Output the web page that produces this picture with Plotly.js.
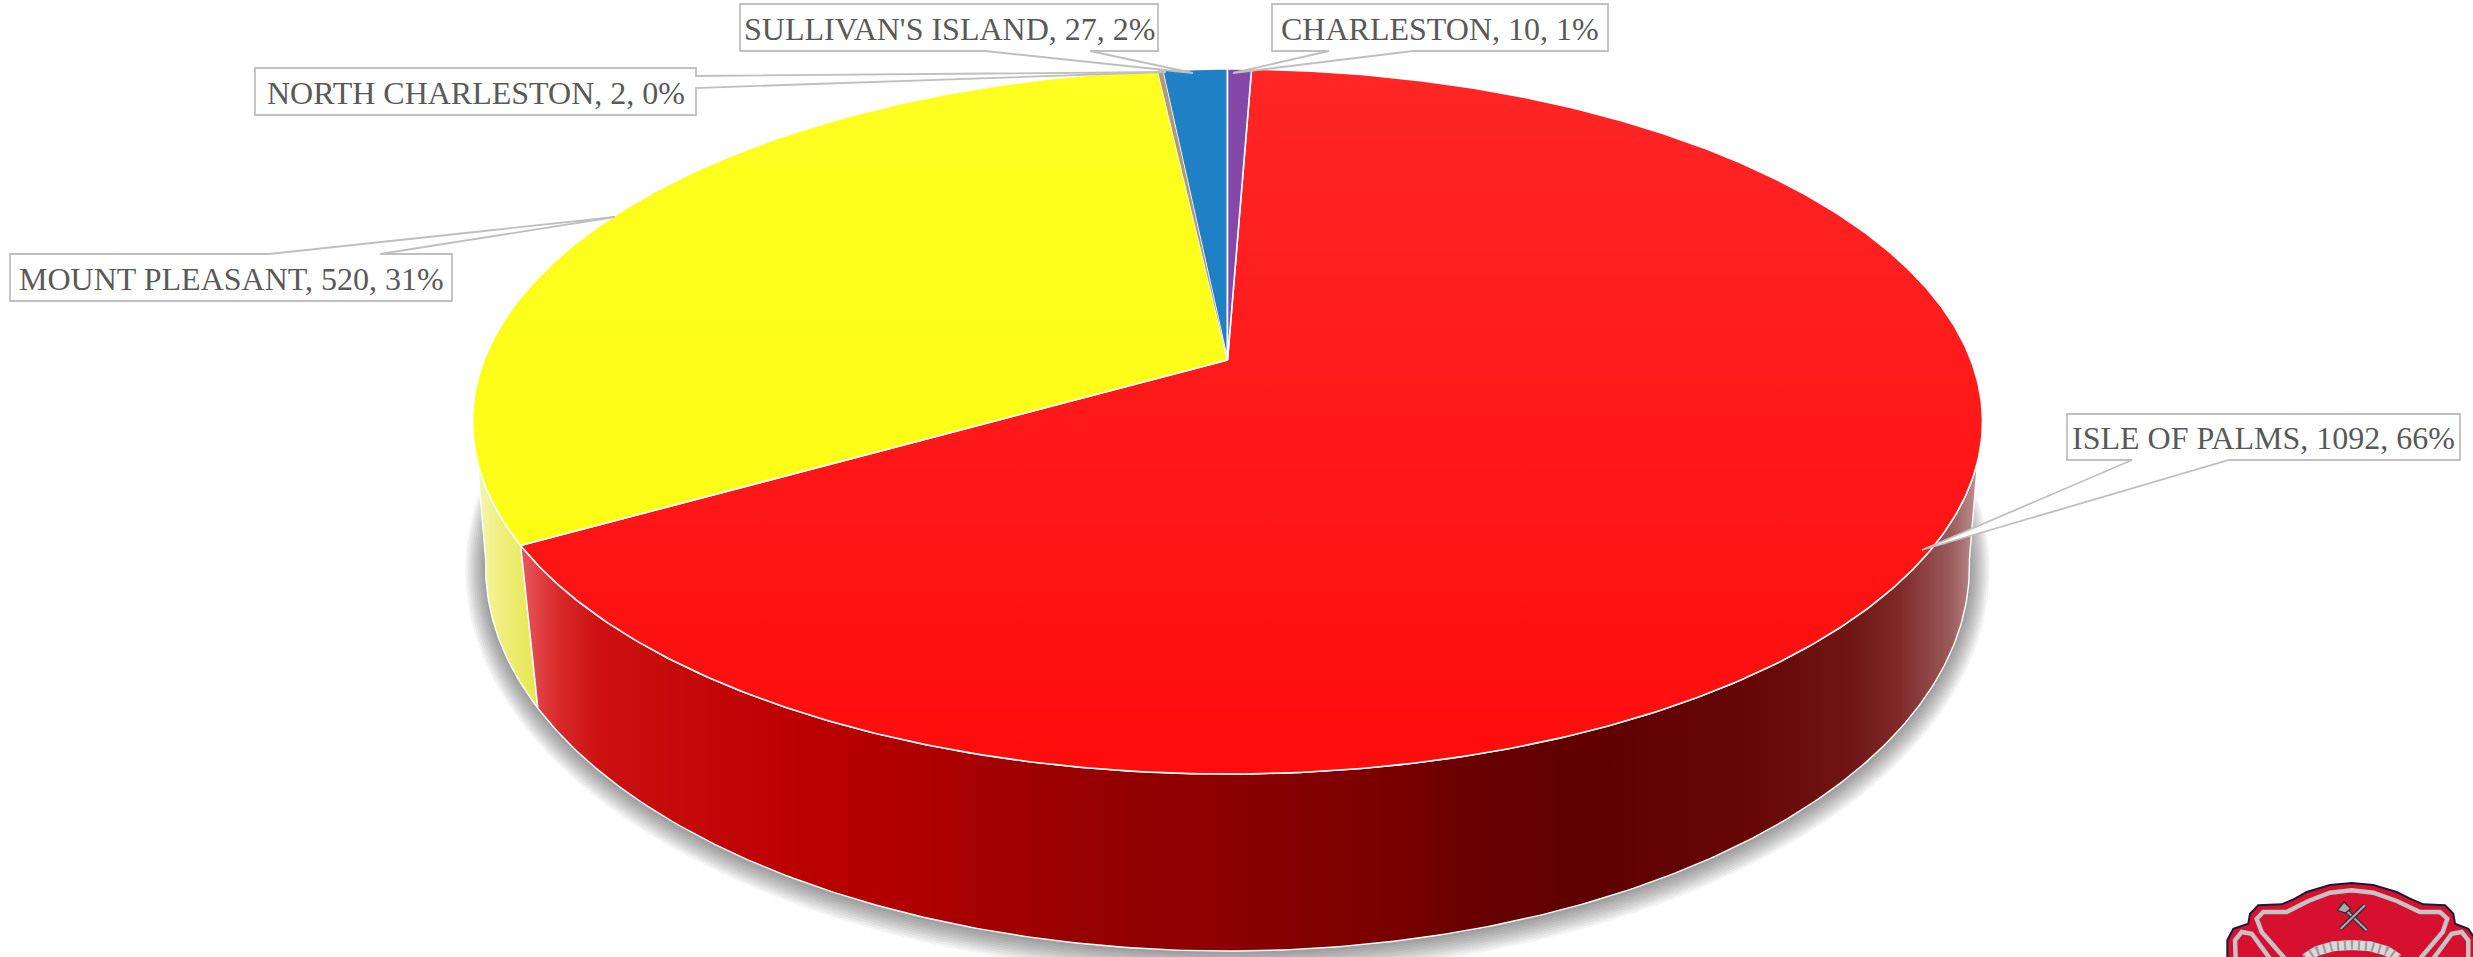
<!DOCTYPE html>
<html><head><meta charset="utf-8">
<script src="https://cdn.plot.ly/plotly-3.0.1.min.js"></script>
<style>html,body{margin:0;padding:0;background:#fff;overflow:hidden}#c{width:2473px;height:957px}</style>
</head><body><div id="c"></div>
<script>
// ---- data ----
const categories = ["CHARLESTON", "ISLE OF PALMS", "MOUNT PLEASANT", "NORTH CHARLESTON", "SULLIVAN'S ISLAND"];
const values = [10, 1092, 520, 2, 27];
const sliceTop = [["#8448a8","#8448a8"],["#ff2626","#ff0c0c"],["#ffff20","#fbfb10"],["#b09a78","#b09a78"],["#2080c6","#2080c6"]];

// ---- geometry of the perspective pie (pixels) ----
const W = 2473, H = 957, cx = 1227.5;
const topE = {cy: 360, a: 341.8, b: 743.4, k: 0.1745};
const botE = {cy: 506.5, a: 375.6, b: 733, k: 0.155};
function pt(e, deg, g) {
  g = g || 0;
  const t = deg * Math.PI / 180, d = 1 + e.k * Math.cos(t);
  return [cx + (e.b + g) * Math.sin(t) / d, e.cy - (e.a + g) * Math.cos(t) / d];
}
function arc(e, a0, a1, g) {
  const n = Math.max(2, Math.ceil(Math.abs(a1 - a0) / 0.5)), out = [];
  for (let i = 0; i <= n; i++) out.push(pt(e, a0 + (a1 - a0) * i / n, g));
  return out;
}
const xs = p => p.map(q => q[0]), ys = p => p.map(q => q[1]);

const total = values.reduce((s, v) => s + v, 0);
const angles = [0];
values.forEach(v => angles.push(angles[angles.length - 1] + v / total * 360));

const traces = [];
// shadow
for (let g = 20; g >= 2; g -= 2) {
  const p = arc(botE, 0, 360, g);
  traces.push({type:"scatter", mode:"none", x: xs(p), y: ys(p).map(v => v + 1), fill:"toself",
    fillcolor:"rgba(0,0,0,0.042)", hoverinfo:"skip"});
}
// side walls
const redWall = [[519,"#e85a60"],[560,"#d82828"],[600,"#cc1010"],[700,"#c20808"],[800,"#bb0000"],[907,"#b00000"],
  [1100,"#950000"],[1233,"#8c0000"],[1400,"#780000"],[1500,"#640000"],[1600,"#600000"],[1750,"#670606"],
  [1850,"#701515"],[1900,"#802a2a"],[1950,"#9a5a5a"],[1982,"#c49a9a"]];
const scale = (stops) => {
  const a = stops[0][0], b = stops[stops.length - 1][0];
  return {start: a, stop: b, type: "horizontal", colorscale: stops.map(s => [(s[0] - a) / (b - a), s[1]])};
};
function wall(a0, a1, grad) {
  const p = arc(topE, a0, a1).concat(arc(botE, a1, a0));
  p.push(p[0]);
  traces.push({type:"scatter", mode:"lines", x: xs(p), y: ys(p), fill:"toself",
    fillgradient: grad, line:{color:"#ffffff", width:1.4}, hoverinfo:"skip"});
}
wall(angles[2], 262, scale([[476,"#f6f6b4"],[500,"#efef80"],[538,"#e6e650"]]));
wall(98, angles[2], scale(redWall));
// top faces
[1, 2, 4, 0, 3].forEach(i => {
  const p = [[cx, topE.cy]].concat(arc(topE, angles[i], angles[i + 1]));
  p.push(p[0]);
  traces.push({type:"scatter", mode:"lines", name: categories[i], x: xs(p), y: ys(p), fill:"toself",
    fillgradient:{type:"vertical", start:69, stop:774, colorscale:[[0, sliceTop[i][0]],[1, sliceTop[i][1]]]},
    line:{color:"#ffffff", width: i === 3 ? 0 : 1.6}, hoverinfo:"skip"});
});

// ---- labels: box [x0,y0,x1,y1], wedge base points, wedge tip ----
const labelBoxes = [
  {box:[1272,4,1608,51],  base:[[1413,51],[1329,51]], tip:[1233,73]},
  {box:[2067,414,2460,460], base:[[2229,460],[2132,460]], tip:[1922,550]},
  {box:[10,254,452,301],  base:[[269,254],[380,254]], tip:[615,217]},
  {box:[255,68,696,115],  base:[[696,76],[696,88]], tip:[1166,72]},
  {box:[740,4,1158,51],   base:[[1090,51],[985,51]], tip:[1193,73]}
];
const shapes = [], annotations = [];
labelBoxes.forEach((l, i) => {
  const [x0,y0,x1,y1] = l.box, [p,q] = l.base;
  let path;
  if (p[1] === y0) path = `M${x0},${y0}L${p[0]},${y0}L${l.tip[0]},${l.tip[1]}L${q[0]},${y0}L${x1},${y0}L${x1},${y1}L${x0},${y1}Z`;
  else if (p[1] === y1) path = `M${x0},${y0}L${x1},${y0}L${x1},${y1}L${p[0]},${y1}L${l.tip[0]},${l.tip[1]}L${q[0]},${y1}L${x0},${y1}Z`;
  else path = `M${x0},${y0}L${x1},${y0}L${x1},${p[1]}L${l.tip[0]},${l.tip[1]}L${x1},${q[1]}L${x1},${y1}L${x0},${y1}Z`;
  shapes.push({type:"path", path, fillcolor:"#ffffff", line:{color:"#bfbfbf", width:1.8}, layer:"above"});
  annotations.push({xref:"x", yref:"y", x:(x0+x1)/2, y:(y0+y1)/2 + 1, xanchor:"center", yanchor:"middle", showarrow:false,
    text:`${categories[i]}, ${values[i]}, ${Math.round(values[i]/total*100)}%`,
    font:{family:"Liberation Serif, serif", size:32, color:"#595959"}});
});

// ---- badge in the corner (from a 3x crop at 2220,877) ----
const bx = z => 2220 + z / 3, by = z => 877 + z / 3;
const poly = (pts, close) => pts.map((p, i) => (i ? "L" : "M") + bx(p[0]).toFixed(1) + "," + by(p[1]).toFixed(1)).join("") + (close ? "Z" : "");
const outer = [[22,260],[22,190],[40,155],[85,140],[90,110],[115,85],[185,82],[225,65],[260,45],[330,24],[395,18],[460,24],[530,45],[570,65],[610,82],[675,85],[700,110],[705,140],[745,155],[768,190],[768,260]];
shapes.push({type:"path", path:poly(outer,true), fillcolor:"#d6102e", line:{color:"#1a1a3a", width:2}, layer:"above"});
const silver = [
  [[195,245],[125,165],[110,125],[130,105],[200,105],[265,72],[330,47],[395,40],[460,47],[530,72],[600,105],[660,105],[682,125],[668,165],[600,245]],
  [[47,245],[45,190],[65,165],[95,170],[150,245]],
  [[745,245],[745,190],[725,165],[695,170],[640,245]]
];
silver.forEach(s => shapes.push({type:"path", path:poly(s,false), line:{color:"#c4c4c4", width:4.5}, layer:"above"}));
const ring = [[255,245],[290,222],[340,208],[395,204],[450,208],[500,222],[535,245]];
shapes.push({type:"path", path:poly(ring,false), line:{color:"#d8d8d8", width:10}, layer:"above"});
shapes.push({type:"path", path:poly(ring,false), line:{color:"#9a9a9a", width:10, dash:"2px,5px"}, layer:"above"});
const axes = [ [[440,160],[370,92]], [[362,155],[435,85]] ];
axes.forEach(a => {
  shapes.push({type:"path", path:poly(a,false), line:{color:"#2a2a3a", width:4.5}, layer:"above"});
  shapes.push({type:"path", path:poly(a,false), line:{color:"#a8a8a8", width:2.2}, layer:"above"});
});
shapes.push({type:"path", path:poly([[352,100],[372,75],[392,95],[376,108]],true), fillcolor:"#a8a8a8", line:{color:"#2a2a3a", width:1.2}, layer:"above"});

Plotly.newPlot("c", traces, {
  width:W, height:H, margin:{l:0,r:0,t:0,b:0}, showlegend:false,
  paper_bgcolor:"#ffffff", plot_bgcolor:"#ffffff",
  xaxis:{range:[0,W], visible:false, fixedrange:true},
  yaxis:{range:[H,0], visible:false, fixedrange:true},
  shapes, annotations
}, {displayModeBar:false, staticPlot:true});
</script></body></html>
